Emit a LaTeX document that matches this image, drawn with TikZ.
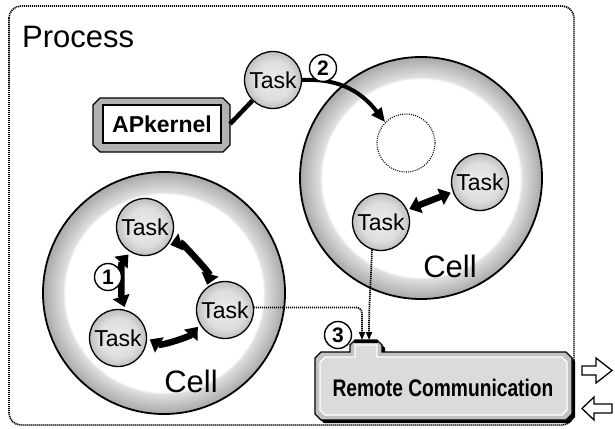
\documentclass[tikz,border=0pt]{standalone}
\usepackage{fontspec}
\usepackage{graphicx}
\setmainfont{Liberation Sans}
\usetikzlibrary{arrows.meta}

% ring of a cell: white core, grey rim
\pgfdeclareradialshading{cellring}{\pgfpoint{0bp}{0bp}}{%
  color(0bp)=(white); color(20.4bp)=(white); color(20.9bp)=(gray!25);
  color(25bp)=(gray!68); color(50bp)=(gray!68)}
% task ball: light grey, darker towards the rim
\pgfdeclareradialshading{taskball}{\pgfpoint{0bp}{0bp}}{%
  color(0bp)=(gray!15); color(17bp)=(gray!26); color(25bp)=(gray!50);
  color(50bp)=(gray!50)}

\tikzset{
  framebox/.style={draw=black, line width=1.6pt, dash pattern=on 1.2pt off 0.8pt, rounded corners=12pt},
  task/.style={circle, draw=black, line width=1.3pt, shading=taskball,
    minimum size=57pt, inner sep=0pt, font=\fontsize{23}{23}\selectfont},
  bigtext/.style={font=\fontsize{31}{31}\selectfont, inner sep=0pt},
  num/.style={circle, draw=black, line width=1.4pt, fill=white,
    minimum size=27pt, inner sep=0pt, font=\bfseries\fontsize{21}{21}\selectfont},
  dblarrow/.style={line width=6.5pt,
    {Triangle[length=11pt,width=17pt]}-{Triangle[length=11pt,width=17pt]}},
  sendarrow/.style={line width=4pt, -{Triangle[length=14pt,width=12pt]}},
  msgline/.style={draw=black, line width=1.7pt, dash pattern=on 1.2pt off 0.8pt,
    -{Triangle[length=8pt,width=6pt]}},
  blockarrow/.style={draw=black, line width=1.3pt, fill=white, line join=miter},
}

\begin{document}
\begin{tikzpicture}[x=1pt,y=-1pt]
\useasboundingbox (0,0) rectangle (615,428);

% process frame
\draw[framebox] (9,6) rectangle (574,425);
\node[bigtext, anchor=base west] (proc) at (22,48) {Process};

% cells
\fill[shading=cellring] (421,178) circle[radius=121];
\draw[black, line width=1.8pt] (421,178) circle[radius=121];
\fill[shading=cellring] (164,293) circle[radius=121];
\draw[black, line width=1.8pt] (164,293) circle[radius=121];
\node[bigtext] (cellR) at (450,266) {Cell};
\node[bigtext] (cellL) at (191,381) {Cell};

% empty slot in the right cell
\node[circle, draw=black, line width=1.1pt, dash pattern=on 1pt off 1.2pt,
  minimum size=58pt, inner sep=0pt] (slot) at (406,143) {};

% tasks
\node[task] (tk)  at (273,80)  {Task};
\node[task] (rt1) at (480,182) {Task};
\node[task] (rt2) at (381,222) {Task};
\node[task] (t1)  at (145,227) {Task};
\node[task] (t3)  at (225,310) {Task};
\node[task] (t2)  at (118,338) {Task};

% APkernel box
\filldraw[fill=gray!60, draw=black, line width=1.3pt]
  (100,98) -- (223,98) -- (230,105) -- (230,145) -- (223,152) -- (100,152)
  -- (93,145) -- (93,105) -- cycle;
\filldraw[fill=white, draw=black, line width=1.3pt] (103,105) rectangle (221,143);
\node[font=\bfseries\fontsize{23}{23}\selectfont, inner sep=0pt] (ap) at (162,124) {APkernel};
\coordinate (apR) at (230,124);
\draw[line width=4.5pt] (apR) -- (tk.-135);

% task migration
\draw[sendarrow] (tk.east) .. controls +(40,-2) and +(-22,-28) .. (slot.135);

% intra-cell communication
\draw[dblarrow, shorten <=3pt, shorten >=3pt]
  (t1.-40) .. controls +(14,-4) and +(4,-14) .. (t3.130);
\draw[dblarrow, shorten <=3pt, shorten >=3pt]
  (t3.-150) .. controls +(-10,12) and +(14,8) .. (t2.0);
\draw[dblarrow, shorten <=3pt, shorten >=3pt]
  (t1.-120) .. controls +(-9,10) and +(-4,-12) .. (t2.75);
\draw[dblarrow, shorten <=2pt, shorten >=2pt] (rt2.25) -- (rt1.-160);

% remote communication box
\coordinate (portA) at (362,340);
\coordinate (portB) at (369,340);
\fill[black]
  (318,355) -- (324,355) -- (353,355) -- (353,348) -- (358,343) -- (380,343)
  -- (385,348) -- (385,355) -- (569,355) -- (575,361) -- (575,417) -- (569,423)
  -- (324,423) -- (318,417) -- cycle;
\filldraw[fill=gray!48, draw=black, line width=1.3pt]
  (321,352) -- (350,352) -- (350,345) -- (355,340) -- (377,340) -- (382,345)
  -- (382,352) -- (566,352) -- (572,358) -- (572,414) -- (566,420) -- (321,420)
  -- (315,414) -- (315,358) -- cycle;
\filldraw[fill=gray!28, draw=white, line width=1.4pt]
  (325,357) -- (355,357) -- (355,345) -- (377,345) -- (377,357) -- (562,357)
  -- (567,362) -- (567,410) -- (562,415) -- (325,415) -- (320,410) -- (320,362) -- cycle;
\draw[line width=3pt] (354,341) -- (378,341);
\node[font=\bfseries\fontsize{24}{24}\selectfont, inner sep=0pt] (rc) at (443,388)
  {\scalebox{0.8}[1]{Remote Communication}};

% messages to the remote side
\draw[msgline, rounded corners=6pt] (t3.5) -| (portA);
\draw[msgline] (rt2.-108) .. controls +(-1,30) and +(0,-40) .. (portB);

% numbered markers
\node[num] (n1) at (108,277) {1};
\node[num] (n2) at (323,68)  {2};
\node[num] (n3) at (338,335) {3};

% outgoing / incoming
\draw[blockarrow] (582,366) -- (596,366) -- (596,358) -- (612,370.5) -- (596,383)
  -- (596,375) -- (582,375) -- cycle;
\draw[blockarrow] (612,404) -- (594,404) -- (594,397) -- (582,408.5) -- (594,420)
  -- (594,413) -- (612,413) -- cycle;
\end{tikzpicture}
\end{document}
